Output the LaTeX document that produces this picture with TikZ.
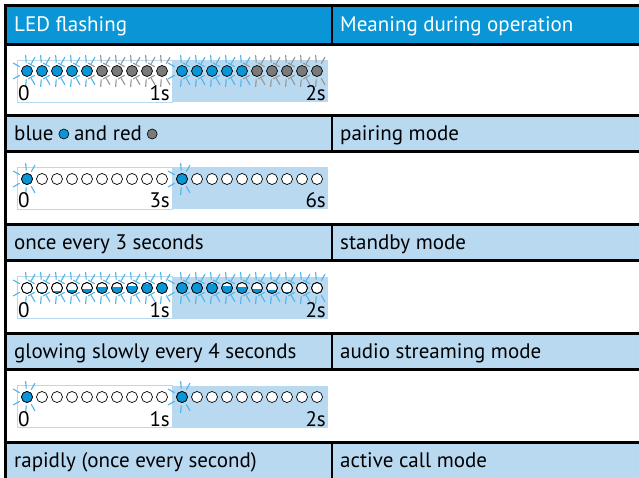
\documentclass[tikz,border=0pt]{standalone}
\usepackage{fontspec}
\setmainfont{PT Sans}
\definecolor{hdr}{HTML}{0A96D6}
\definecolor{lb}{HTML}{B9D9F1}
\definecolor{ledb}{HTML}{0A96D6}
\definecolor{rayb}{HTML}{4DB5EA}
\definecolor{ledg}{HTML}{7A7A7A}
\definecolor{rayg}{HTML}{959595}
\tikzset{
  txt/.style={anchor=base west, font=\fontsize{21}{24}\selectfont, inner sep=0pt},
  hdrtxt/.style={txt, text=white},
  lblw/.style={anchor=base west, font=\fontsize{21}{24}\selectfont, inner sep=0pt},
  lble/.style={anchor=base east, font=\fontsize{21}{24}\selectfont, inner sep=0pt},
  gridline/.style={line width=2.5pt, black},
  ledline/.style={draw=black, line width=0.7pt},
  raystyle/.style={line width=1.1pt},
}
\newcommand\myrays[3]{\foreach \a in {60,95,150,210,265,300}{\draw[raystyle,#3,shift={(#1,#2)}] (\a:8.5) -- (\a:16);}}
\newcommand\myled[3]{\filldraw[ledline,fill=#3] (#1,#2) circle (5.5);}
\newcommand\myhalf[3]{\begin{scope}\clip (#1,#2) circle (5.5);\fill[ledb] (#1-6,#2+5.5-11*#3) rectangle (#1+6,#2+6);\end{scope}\draw[ledline] (#1,#2) circle (5.5);}
\begin{document}
\begin{tikzpicture}[x=1pt,y=-1pt]
\useasboundingbox (0,0) rectangle (639,478);
\fill[white] (0,0) rectangle (639,478);
% header and text rows
\fill[hdr] (5.5,5.5) rectangle (639,44.5);
\foreach \t in {115.5,224.5,333.5,442.5} {\fill[lb] (5.5,\t) rectangle (639,\t+36);}
% LED strips
\foreach \r in {44.5,151.5,260.5,369.5} {
  \filldraw[draw=lb, line width=0.8pt, fill=white] (17,\r+16) rectangle (172,\r+58);
  \fill[lb] (172,\r+16) rectangle (328,\r+58);
}
% row 1: pairing
\foreach \i in {0,...,4} {
  \myrays{27+15*\i}{71}{rayb} \myrays{182+15*\i}{71}{rayb}
}
\foreach \i in {5,...,9} {
  \myrays{27+15*\i}{71}{rayg} \myrays{182+15*\i}{71}{rayg}
}
\foreach \i in {0,...,4} {\myled{27+15*\i}{71}{ledb} \myled{182+15*\i}{71}{ledb}}
\foreach \i in {5,...,9} {\myled{27+15*\i}{71}{ledg} \myled{182+15*\i}{71}{ledg}}
% row 2: standby
\myrays{27}{179}{rayb} \myrays{182}{179}{rayb}
\foreach \i in {0,...,9} {\myled{27+15*\i}{179}{white} \myled{182+15*\i}{179}{white}}
\myled{27}{179}{ledb} \myled{182}{179}{ledb}
% row 3: streaming
\foreach \i in {0,...,9} {\myrays{27+15*\i}{288}{rayb} \myrays{182+15*\i}{288}{rayb}}
\foreach \i/\f in {0/0,1/0.1,2/0.2,3/0.3,4/0.45,5/0.55,6/0.62,7/0.72,8/0.9,9/1} {\myled{27+15*\i}{288}{white}\myhalf{27+15*\i}{288}{\f}}
\foreach \i/\f in {0/1,1/1,2/0.85,3/0.7,4/0.55,5/0.45,6/0.3,7/0.18,8/0.06,9/0} {\myled{182+15*\i}{288}{white}\myhalf{182+15*\i}{288}{\f}}
% row 4: active call
\myrays{27}{397}{rayb} \myrays{182}{397}{rayb}
\foreach \i in {0,...,9} {\myled{27+15*\i}{397}{white} \myled{182+15*\i}{397}{white}}
\myled{27}{397}{ledb} \myled{182}{397}{ledb}
% labels
\node[lblw] (l1a) at (18,101) {0};
\node[lble] (l1b) at (170,101) {1s};
\node[lble] (l1c) at (326,101) {2s};
\node[lblw] (l2a) at (18,208) {0};
\node[lble] (l2b) at (170,208) {3s};
\node[lble] (l2c) at (326,208) {6s};
\node[lblw] (l3a) at (18,317) {0};
\node[lble] (l3b) at (170,317) {1s};
\node[lble] (l3c) at (326,317) {2s};
\node[lblw] (l4a) at (18,426) {0};
\node[lble] (l4b) at (170,426) {1s};
\node[lble] (l4c) at (326,426) {2s};
% texts
\node[hdrtxt] (h1) at (14,31.5) {LED flashing};
\node[hdrtxt] (h2) at (340,31.5) {Meaning during operation};
\node[txt] (t1a) at (14,140.5) {blue};
\filldraw[ledline,line width=0.6pt,fill=ledb] ([xshift=10pt,yshift=6.5pt]t1a.base east) circle (5);
\node[txt] (t1b) at ([xshift=20pt]t1a.base east) {and red};
\filldraw[ledline,line width=0.6pt,fill=ledg] ([xshift=10pt,yshift=6.5pt]t1b.base east) circle (5);
\node[txt] (t1c) at (340,140.5) {pairing mode};
\node[txt] (t2a) at (14,249.5) {once every 3 seconds};
\node[txt] (t2c) at (340,249.5) {standby mode};
\node[txt] (t3a) at (14,358.5) {glowing slowly every 4 seconds};
\node[txt] (t3c) at (340,358.5) {audio streaming mode};
\node[txt] (t4a) at (14,467.5) {rapidly (once every second)};
\node[txt] (t4c) at (340,467.5) {active call mode};
% grid lines
\draw[gridline] (5.5,5.5) -- (639,5.5);
\draw[gridline] (5.5,4.25) -- (5.5,478);
\foreach \t in {44.5,115.5,151.5,224.5,260.5,333.5,369.5,442.5} {\draw[gridline] (4.25,\t) -- (639,\t);}
\draw[gridline] (332,5.5) -- (332,44.5);
\foreach \t in {115.5,224.5,333.5,442.5} {\draw[gridline] (332,\t) -- (332,\t+36);}
\end{tikzpicture}
\end{document}
